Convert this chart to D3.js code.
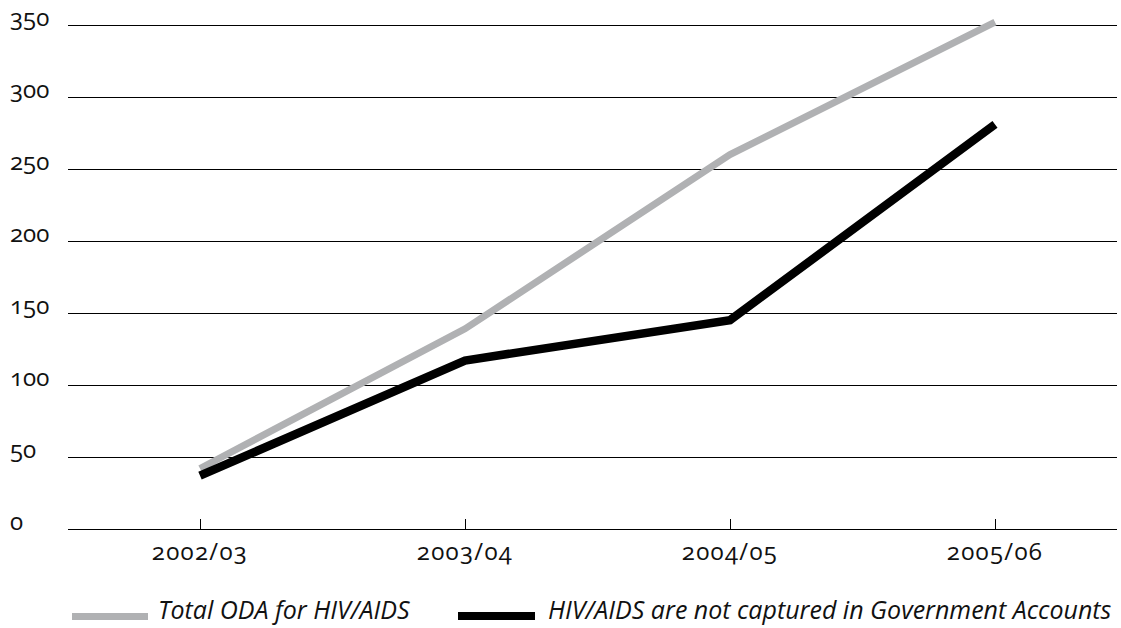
<!DOCTYPE html>
<html>
<head>
<meta charset="utf-8">
<script src="https://cdn.jsdelivr.net/npm/d3@7"></script>
<style>
  body { margin: 0; background: #fff; }
  svg text { font-family: "Open Sans", "Noto Sans", sans-serif; font-feature-settings: "onum"; }
</style>
</head>
<body>
<svg id="chart" width="1121" height="628"></svg>
<script>
var years = ["2002/03", "2003/04", "2004/05", "2005/06"]
var totalOda = [42, 139, 260, 352]
var notCaptured = [37, 117, 145, 281]
var yTicks = [0, 50, 100, 150, 200, 250, 300, 350]
var seriesNames = ["Total ODA for HIV/AIDS", "HIV/AIDS are not captured in Government Accounts"]

var svg = d3.select("#chart")
var plotLeft = 68, plotRight = 1117, plotTop = 25, plotBottom = 529

var x = d3.scalePoint().domain(years).range([200, 995])
var y = d3.scaleLinear().domain([0, 350]).range([plotBottom, plotTop])

// gridlines
svg.append("g").selectAll("line").data(yTicks).enter().append("line")
    .attr("x1", plotLeft).attr("x2", plotRight)
    .attr("y1", function(d) { return y(d) + 0.5 }).attr("y2", function(d) { return y(d) + 0.5 })
    .attr("stroke", "#000").attr("stroke-width", 1.3)
    .attr("shape-rendering", "crispEdges")

// y labels
svg.append("g").selectAll("text").data(yTicks).enter().append("text")
    .attr("x", 10).attr("y", function(d) { return y(d) + 1 })
    .attr("font-size", "24px").attr("fill", "#111")
    .text(function(d) { return d })

// x axis ticks and labels
var xa = svg.append("g").attr("transform", "translate(0," + plotBottom + ")")
xa.selectAll("line").data(years).enter().append("line")
    .attr("x1", function(d) { return x(d) + 0.5 }).attr("x2", function(d) { return x(d) + 0.5 })
    .attr("y1", 0).attr("y2", -10).attr("stroke", "#000").attr("stroke-width", 1)
    .attr("shape-rendering", "crispEdges")
xa.selectAll("text").data(years).enter().append("text")
    .attr("x", function(d) { return x(d) }).attr("y", 31)
    .attr("text-anchor", "middle").attr("font-size", "24px").attr("letter-spacing", "1.3px")
    .attr("fill", "#111")
    .text(function(d) { return d })

var line = d3.line()
    .x(function(d, i) { return x(years[i]) })
    .y(function(d) { return y(d) })

svg.append("path").datum(totalOda).attr("d", line)
    .attr("fill", "none").attr("stroke", "#b0b1b3").attr("stroke-width", 7)
svg.append("path").datum(notCaptured).attr("d", line)
    .attr("fill", "none").attr("stroke", "#000").attr("stroke-width", 8.5)

// legend
var lg = svg.append("g")
lg.append("rect").attr("x", 72).attr("y", 613).attr("width", 76).attr("height", 7).attr("fill", "#b0b1b3")
lg.append("text").attr("x", 158).attr("y", 619).attr("font-size", "25px").attr("font-style", "italic")
    .attr("fill", "#111").text(seriesNames[0])
lg.append("rect").attr("x", 458).attr("y", 612).attr("width", 77).attr("height", 8).attr("fill", "#000")
lg.append("text").attr("x", 548).attr("y", 619).attr("font-size", "25px").attr("font-style", "italic")
    .attr("fill", "#111").text(seriesNames[1])
</script>
</body>
</html>
